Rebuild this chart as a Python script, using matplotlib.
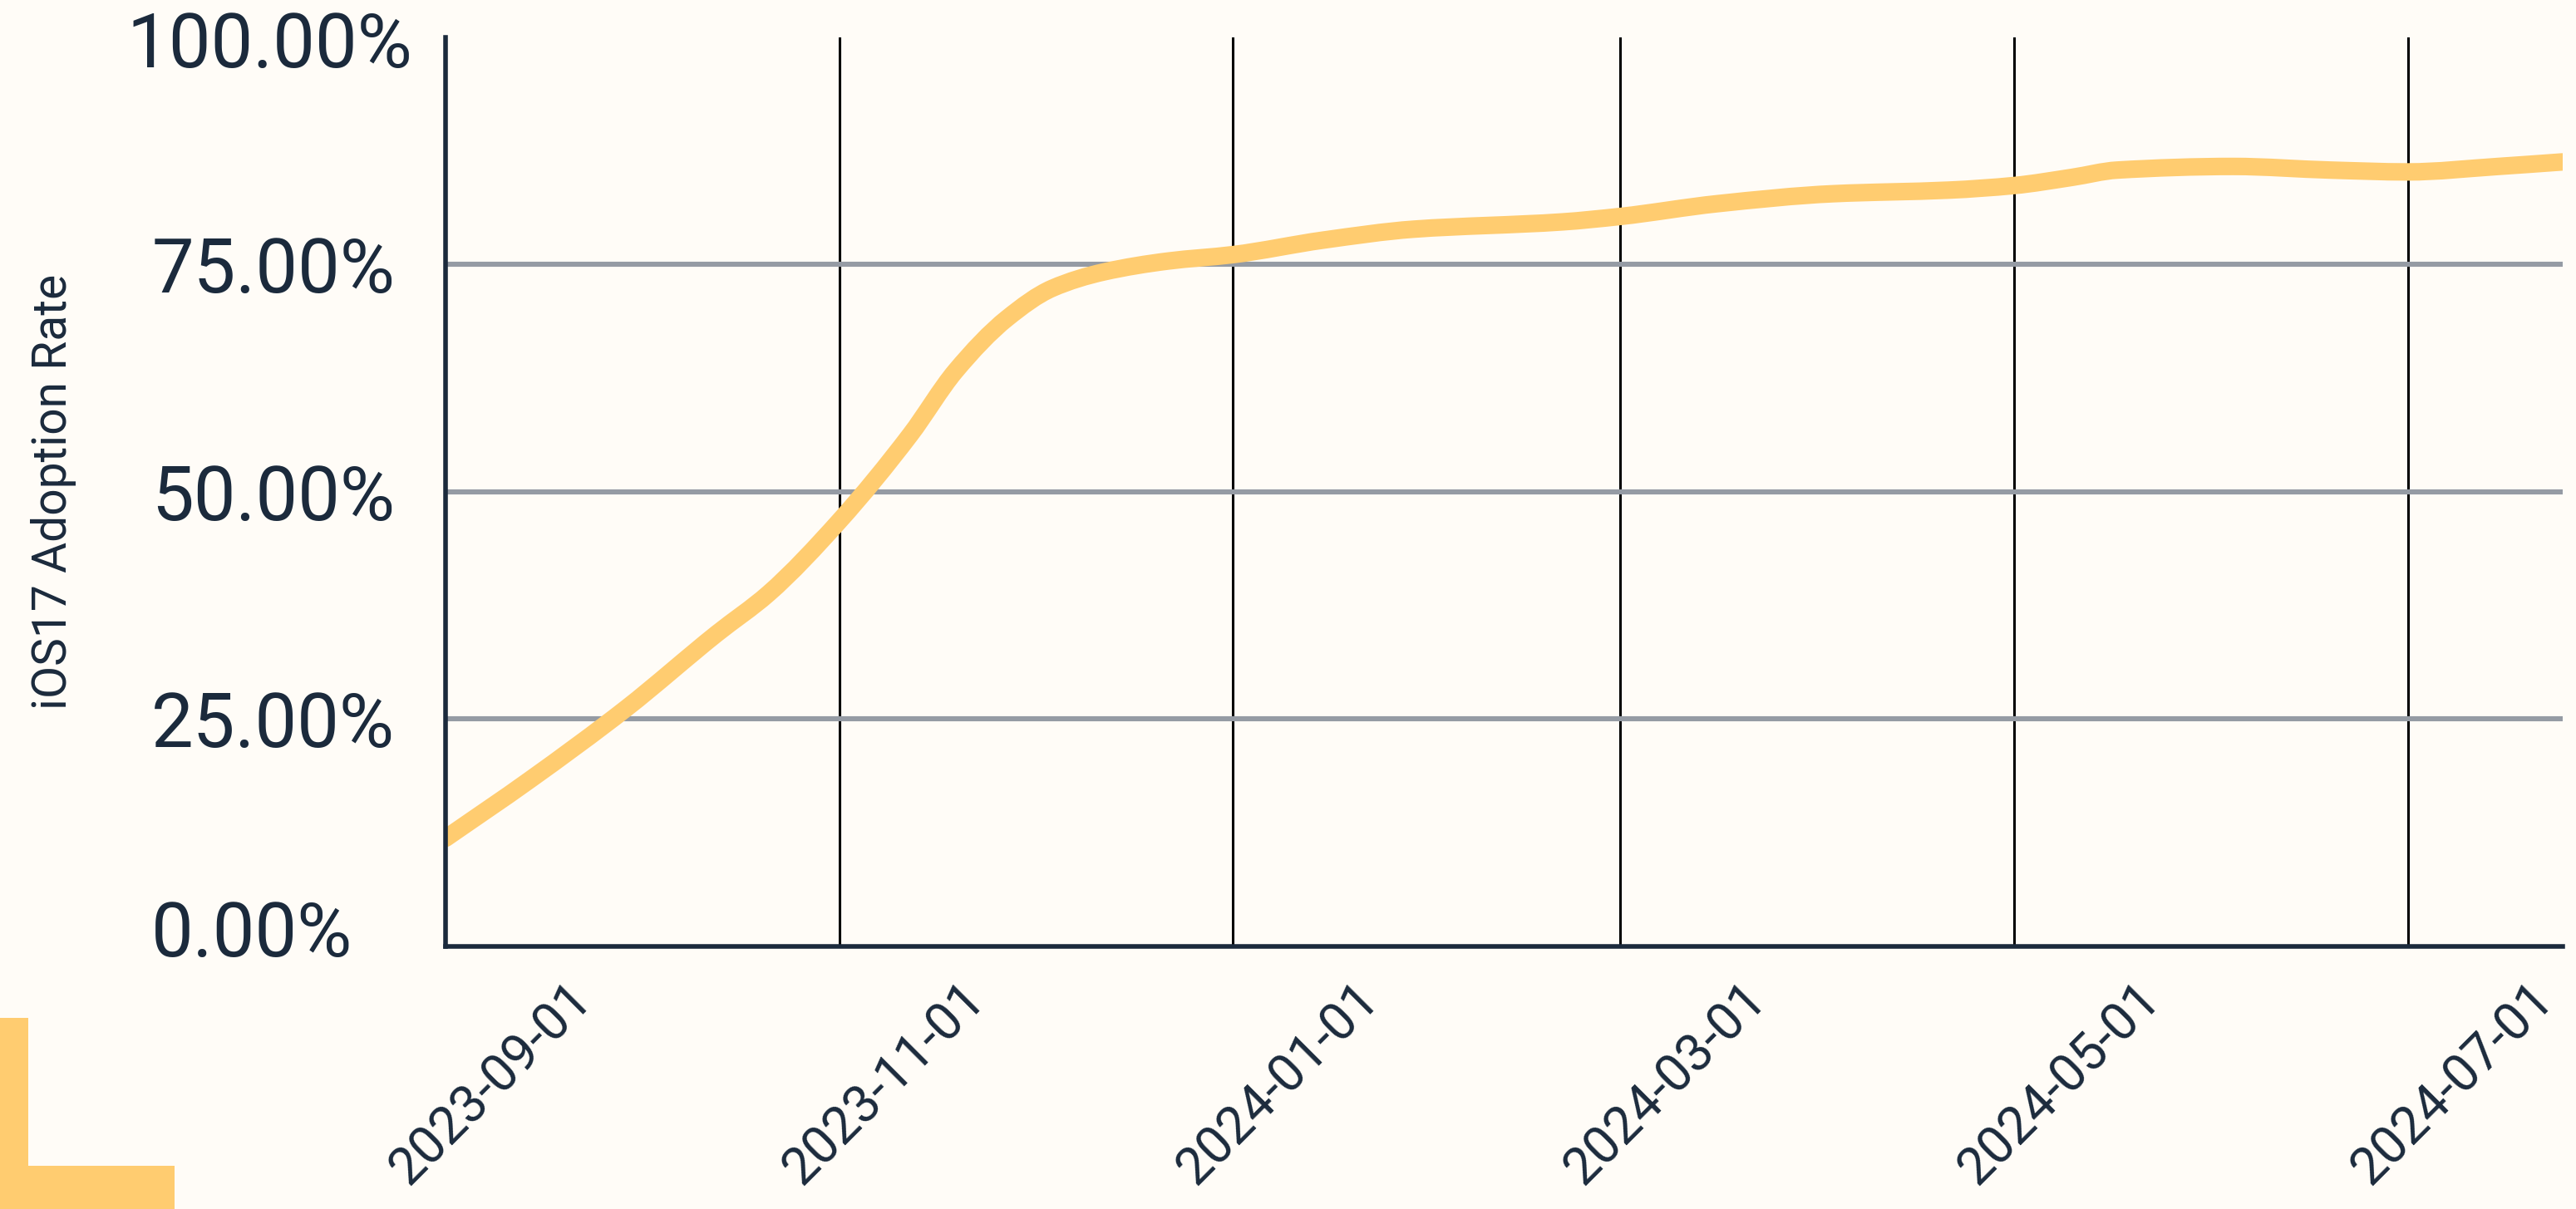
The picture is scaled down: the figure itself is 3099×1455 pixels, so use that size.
import matplotlib
matplotlib.use("Agg")
import matplotlib.pyplot as plt
import matplotlib.dates as mdates
import matplotlib.transforms as mtransforms
from matplotlib.ticker import PercentFormatter
from matplotlib.patches import Rectangle, PathPatch
from matplotlib.path import Path
import numpy as np
import pandas as pd

# iOS 17 adoption
dates = ["2023-09-01", "2023-09-14", "2023-09-29", "2023-10-13", "2023-10-21",
         "2023-11-01", "2023-11-12", "2023-11-19", "2023-11-27", "2023-12-04",
         "2023-12-12", "2023-12-22", "2024-01-01", "2024-01-15", "2024-01-29",
         "2024-02-21", "2024-03-01", "2024-03-16", "2024-04-03", "2024-04-21",
         "2024-05-01", "2024-05-10", "2024-05-17", "2024-06-04", "2024-06-19",
         "2024-07-01", "2024-07-15", "2024-07-25"]
adoption = [11.9, 18.3, 26.2, 34.4, 38.8,
            46.8, 56.3, 63.3, 69.1, 72.4,
            74.2, 75.4, 76.1, 77.7, 78.9,
            79.7, 80.3, 81.7, 82.8, 83.2,
            83.7, 84.6, 85.4, 85.8, 85.4,
            85.2, 85.8, 86.3]

tick_dates = ["2023-09-01", "2023-11-01", "2024-01-01",
              "2024-03-01", "2024-05-01", "2024-07-01"]
y_ticks = [0, 25, 50, 75, 100]

bg = "#fffcf7"
navy = "#1b2a3c"
yellow = "#ffcc70"

plt.rcParams["font.family"] = ["Roboto", "DejaVu Sans"]


def smooth_path(xs, ys):
    # monotone cubic (Fritsch-Carlson) drawn as bezier segments
    xs = np.asarray(xs, float)
    ys = np.asarray(ys, float)
    h = np.diff(xs)
    d = np.diff(ys) / h
    m = np.zeros_like(ys)
    m[0], m[-1] = d[0], d[-1]
    for i in range(1, len(ys) - 1):
        if d[i - 1] * d[i] <= 0:
            m[i] = 0
        else:
            w1 = 2 * h[i] + h[i - 1]
            w2 = h[i] + 2 * h[i - 1]
            m[i] = (w1 + w2) / (w1 / d[i - 1] + w2 / d[i])
    verts = [(xs[0], ys[0])]
    codes = [Path.MOVETO]
    for i in range(len(xs) - 1):
        verts += [(xs[i] + h[i] / 3, ys[i] + m[i] * h[i] / 3),
                  (xs[i + 1] - h[i] / 3, ys[i + 1] - m[i + 1] * h[i] / 3),
                  (xs[i + 1], ys[i + 1])]
        codes += [Path.CURVE4] * 3
    return Path(verts, codes)


x = pd.to_datetime(dates)
xn = mdates.date2num(x)

fig = plt.figure(figsize=(15.495, 7.275), dpi=200, facecolor=bg)
ax = fig.add_axes([0.1730, 0.2172, 0.8218, 0.7519])
ax.set_facecolor(bg)

ax.add_patch(PathPatch(smooth_path(xn, adoption), facecolor="none",
                       edgecolor=yellow, lw=7.6, capstyle="round",
                       joinstyle="round", zorder=3))

ax.set_xlim(x[0], x[-1])
ax.set_ylim(0, 100)
ax.set_xticks(pd.to_datetime(tick_dates))
ax.xaxis.set_major_formatter(mdates.DateFormatter("%Y-%m-%d"))
ax.set_yticks(y_ticks)
ax.yaxis.set_major_formatter(PercentFormatter(decimals=2))

# grid: black verticals, grey horizontals (only inner ones)
ax.grid(axis="x", color="black", lw=1.1, zorder=1)
ax.grid(axis="y", color="#959ba4", lw=2.2, zorder=1)
ygl = ax.get_ygridlines()
ygl[0].set_visible(False)
ygl[-1].set_visible(False)

for side in ["top", "right"]:
    ax.spines[side].set_visible(False)
for side in ["left", "bottom"]:
    ax.spines[side].set_color(navy)
    ax.spines[side].set_linewidth(2.0)
    ax.spines[side].set_zorder(4)

ax.tick_params(axis="both", length=0, colors=navy)
ax.tick_params(axis="y", labelsize=32.5, pad=0)
ax.tick_params(axis="x", labelsize=22.5, pad=12)

# y labels start at a common left edge
dpi = fig.dpi
for i, lab in enumerate(ax.get_yticklabels()):
    dx, dy = -354, 0
    if i == 0:
        dy = 22
    if i == len(y_ticks) - 1:
        dx, dy = -384, -2
    lab.set_horizontalalignment("left")
    lab.set_transform(lab.get_transform() +
                      mtransforms.ScaledTranslation(dx / dpi, dy / dpi, fig.dpi_scale_trans))

for lab in ax.get_xticklabels():
    lab.set_rotation(45)
    lab.set_horizontalalignment("center")
    lab.set_transform(lab.get_transform() +
                      mtransforms.ScaledTranslation(55 / dpi, 0, fig.dpi_scale_trans))

ax.set_ylabel("iOS17 Adoption Rate", fontsize=20.5, color=navy)
ax.yaxis.set_label_coords(-0.1743, 0.5)

# yellow corner mark
W, H = 3099, 1455
fig.add_artist(Rectangle((0, 0), 34 / W, 230 / H, transform=fig.transFigure,
                         color=yellow, lw=0))
fig.add_artist(Rectangle((0, 0), 210 / W, 52 / H, transform=fig.transFigure,
                         color=yellow, lw=0))

fig.savefig("out.png", dpi=200, facecolor=bg)
